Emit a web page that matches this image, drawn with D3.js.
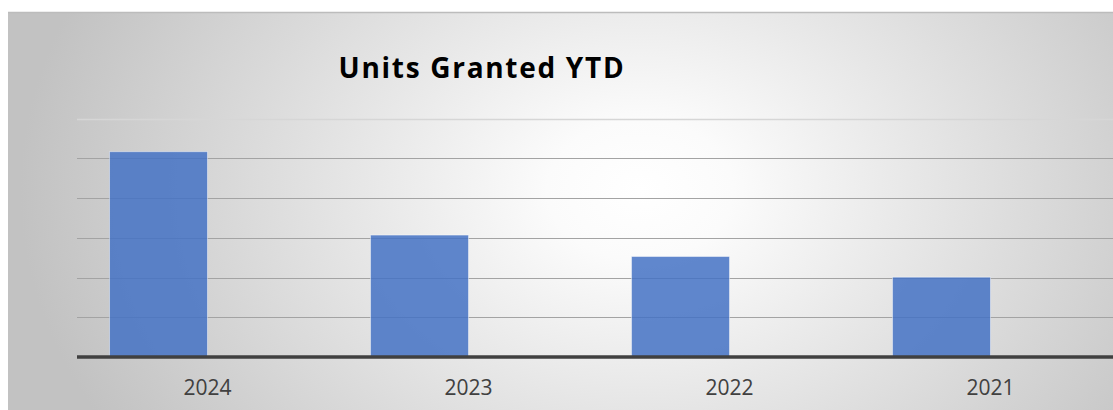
<!DOCTYPE html>
<html>
<head>
<meta charset="utf-8">
<title>Units Granted YTD</title>
<script src="https://cdn.jsdelivr.net/npm/d3@7"></script>
<style>
    body { margin: 0; background: #fff; }
    svg { display: block; }
    .title { font-family: 'Open Sans', sans-serif; font-weight: bold; }
    .xlab { font-family: 'Open Sans', sans-serif; }
</style>
</head>
<body>
<div id="chart"></div>
<script>
// data
var years = ['2024', '2023', '2022', '2021'];
var units = [517, 307, 253, 201];
var yTicks = [100, 200, 300, 400, 500, 600];

(function() {
    'use strict';
    var width = 1113, height = 410;
    var panel = { x: 8, y: 12 };
    var plot = { left: 77, right: 1121, top: 118.7, bottom: 357 };

    var svg = d3.select('#chart').append('svg')
        .attr('width', width)
        .attr('height', height);

    // background gradient
    var defs = svg.append('defs');
    var grad = defs.append('radialGradient')
        .attr('id', 'bg')
        .attr('gradientUnits', 'userSpaceOnUse')
        .attr('cx', 640).attr('cy', 190).attr('r', 620)
        .attr('gradientTransform', 'translate(640,190) scale(1,0.75) translate(-640,-190)');
    grad.append('stop').attr('offset', '0%').attr('stop-color', '#ffffff');
    grad.append('stop').attr('offset', '15%').attr('stop-color', '#fbfbfb');
    grad.append('stop').attr('offset', '100%').attr('stop-color', '#c2c2c2');

    svg.append('rect')
        .attr('x', panel.x).attr('y', panel.y)
        .attr('width', width - panel.x).attr('height', height - panel.y)
        .attr('fill', 'url(#bg)');
    svg.append('line')
        .attr('x1', panel.x).attr('x2', width)
        .attr('y1', panel.y + 0.5).attr('y2', panel.y + 0.5)
        .attr('stroke', '#bcbcbc').attr('stroke-width', 1.5);

    var x = d3.scaleBand().domain(years).range([plot.left, plot.right]);
    // clustered slot: the visible series takes the left slot
    var xs = d3.scaleBand().domain(['units', 'other'])
        .range([0, x.bandwidth()]).paddingOuter(0.332);
    var y = d3.scaleLinear().domain([0, 600]).range([plot.bottom, plot.top]);

    // gridlines
    svg.append('g').selectAll('line')
        .data(yTicks)
        .enter().append('line')
        .attr('x1', plot.left).attr('x2', width)
        .attr('y1', function(d) { return Math.round(y(d)) + 0.5; })
        .attr('y2', function(d) { return Math.round(y(d)) + 0.5; })
        .attr('stroke', function(d) { return d === 600 ? '#d6d6d6' : '#a3a3a3'; })
        .attr('stroke-width', function(d) { return d === 600 ? 1.5 : 1.2; });

    // bars
    svg.append('g').selectAll('rect')
        .data(years)
        .enter().append('rect')
        .attr('x', function(d) { return x(d) + xs('units'); })
        .attr('y', function(d, i) { return y(units[i]); })
        .attr('width', xs.bandwidth())
        .attr('height', function(d, i) { return y(0) - y(units[i]); })
        .attr('fill', '#4472c4')
        .attr('fill-opacity', 0.85)
        .attr('stroke', 'rgba(255,255,255,0.45)')
        .attr('stroke-width', 1);

    // axis baseline
    svg.append('line')
        .attr('x1', plot.left).attr('x2', width)
        .attr('y1', y(0)).attr('y2', y(0))
        .attr('stroke', '#404040').attr('stroke-width', 3.5);

    // category labels
    svg.append('g').selectAll('text')
        .data(years)
        .enter().append('text')
        .attr('class', 'xlab')
        .attr('x', function(d) { return x(d) + x.bandwidth() / 2; })
        .attr('y', 395)
        .attr('text-anchor', 'middle')
        .attr('font-size', 21)
        .attr('fill', '#404040')
        .text(function(d) { return d; });

    // title, wider tracking to match the original face
    svg.append('text')
        .attr('class', 'title')
        .attr('x', 482)
        .attr('y', 78)
        .attr('text-anchor', 'middle')
        .attr('font-size', 28)
        .attr('letter-spacing', 1.7)
        .attr('fill', '#000')
        .text('Units Granted YTD');
})();
</script>
</body>
</html>
